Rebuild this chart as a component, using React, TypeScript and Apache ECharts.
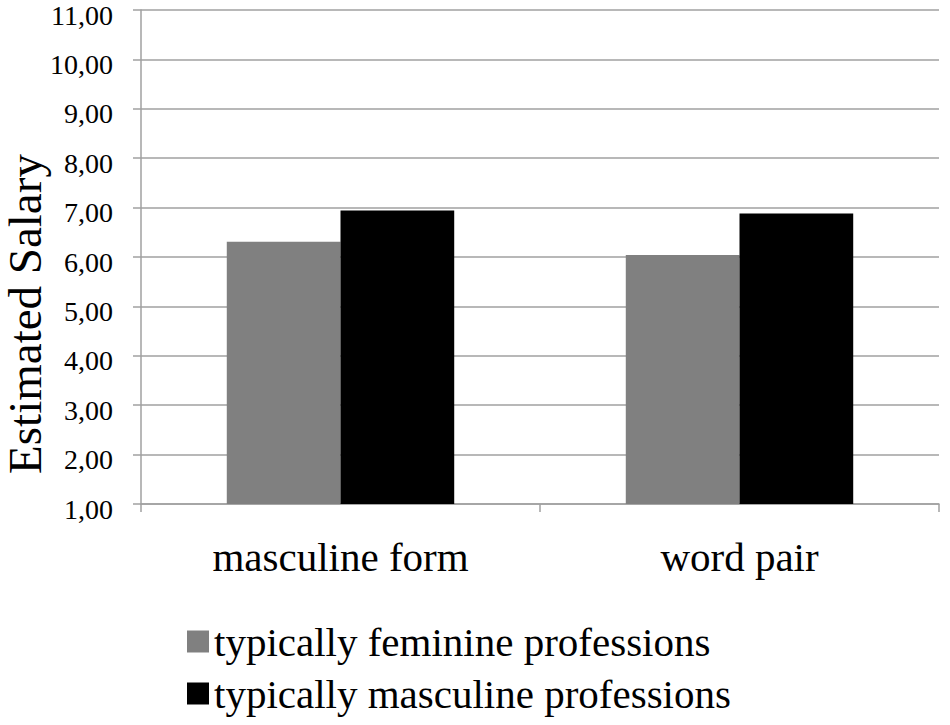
import React, { useEffect, useRef } from "react";
import * as echarts from "echarts";

const categories = ["masculine form", "word pair"];
const feminineValues = [6.31, 6.04];
const masculineValues = [6.94, 6.88];
const seriesNames = ["typically feminine professions", "typically masculine professions"];
const yAxisTitle = "Estimated Salary";

export default function App() {
  const ref = useRef<HTMLDivElement>(null);
  useEffect(() => {
    if (!ref.current) return;
    const chart = echarts.init(ref.current, null, { renderer: "svg" });
    const font = "Liberation Serif";
    const gray = "#a0a0a0";
    chart.setOption({
      animation: false,
      backgroundColor: "#ffffff",
      textStyle: { fontFamily: font },
      grid: {
        left: 141,
        right: 11,
        top: 10,
        bottom: 221,
        containLabel: false,
        outerBoundsMode: "none",
      },
      graphic: [
        {
          type: "text",
          x: 25,
          y: 314,
          rotation: Math.PI / 2,
          style: {
            text: yAxisTitle,
            fontFamily: font,
            fontSize: 47,
            lineHeight: 42,
            fill: "#000",
            textAlign: "center",
            textVerticalAlign: "middle",
          },
        },
      ],
      legend: {
        orient: "vertical",
        left: 182,
        top: 616,
        itemWidth: 22,
        itemHeight: 22,
        itemGap: 11,
        icon: "rect",
        textStyle: { fontFamily: font, fontSize: 41, color: "#000" },
        data: seriesNames,
      },
      xAxis: {
        type: "category",
        data: categories,
        axisLine: { lineStyle: { color: gray, width: 1.5 } },
        axisTick: { show: true, length: 8, lineStyle: { color: gray, width: 1.5 } },
        axisLabel: { fontFamily: font, fontSize: 41, color: "#000", margin: 32 },
      },
      yAxis: {
        type: "value",
        min: 1,
        max: 11,
        interval: 1,
        axisLine: { show: true, lineStyle: { color: gray, width: 1.5 } },
        axisTick: { show: true, length: 8, lineStyle: { color: gray, width: 1.5 } },
        splitLine: { show: true, lineStyle: { color: gray, width: 1.5 } },
        axisLabel: {
          fontFamily: font,
          fontSize: 28,
          lineHeight: 10,
          verticalAlign: "top",
          color: "#000",
          margin: 28,
          formatter: (v: number) => v.toFixed(2).replace(".", ","),
        },
      },
      series: [
        {
          name: seriesNames[0],
          type: "bar",
          data: feminineValues,
          itemStyle: { color: "#808080" },
          barGap: "0%",
          barCategoryGap: "43%",
        },
        {
          name: seriesNames[1],
          type: "bar",
          data: masculineValues,
          itemStyle: { color: "#000000" },
          barGap: "0%",
          barCategoryGap: "43%",
        },
      ],
    });
    return () => chart.dispose();
  }, []);
  return (
    <div
      ref={ref}
      style={{ width: 950, height: 725, position: "absolute", left: 0, top: 0 }}
    />
  );
}
